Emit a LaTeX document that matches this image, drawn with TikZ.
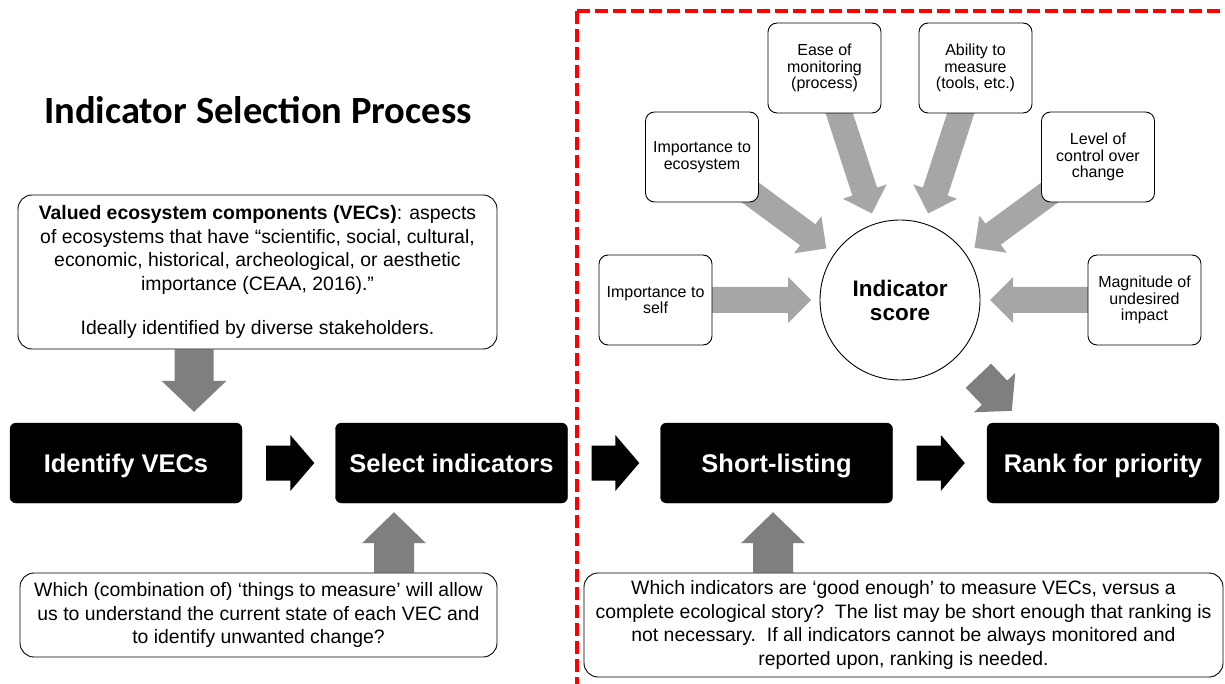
\documentclass[tikz,border=0pt]{standalone}
\usepackage{fontspec}
\setmainfont{Liberation Sans}
\newfontfamily\titlefont{Carlito}
\usetikzlibrary{calc,backgrounds}

\definecolor{lightarrow}{HTML}{A6A6A6}
\definecolor{darkarrow}{HTML}{7F7F7F}
\definecolor{framered}{HTML}{FF0000}

% Block arrow from #1 to the tip #2: half shaft width #3, half head width #4,
% head length #5 (all in pt), filled with #6
\newcommand{\blockarrow}[6]{%
  \fill[#6] let \p1=(#1), \p2=(#2),
      \n1={atan2(\y2-\y1,\x2-\x1)},
      \n2={veclen(\x2-\x1,\y2-\y1)-#5} in
    ($(\p1)+(\n1+90:#3)$) -- ($(\p1)+(\n1:\n2)+(\n1+90:#3)$)
    -- ($(\p1)+(\n1:\n2)+(\n1+90:#4)$) -- (\p2)
    -- ($(\p1)+(\n1:\n2)+(\n1-90:#4)$) -- ($(\p1)+(\n1:\n2)+(\n1-90:#3)$)
    -- ($(\p1)+(\n1-90:#3)$) -- cycle;}

\begin{document}
\begin{tikzpicture}[x=1pt,y=1pt,
  box/.style={draw=black, line width=0.9pt, fill=white, inner sep=0pt, align=center},
  note/.style={box, rounded corners=14pt, font=\fontsize{19.4}{23.5}\selectfont},
  crit/.style={box, rounded corners=9pt, minimum width=113pt, minimum height=90pt,
    font=\fontsize{16}{16.5}\selectfont},
  stage/.style={fill=black, draw=black, rounded corners=6pt, minimum width=232pt,
    minimum height=80pt, inner sep=0pt, text=white, text height=18.3pt, text depth=0pt,
    font=\fontsize{25.5}{30}\selectfont\bfseries},
  redframe/.style={draw=framered, line width=4pt, dash pattern=on 13pt off 5pt}]

\useasboundingbox (0,0) rectangle (1225,-684);

% title
\node[anchor=base, font=\titlefont\fontsize{38.5}{40}\selectfont\bfseries] (title)
  at (258,-124) {Indicator Selection Process};

% left half: VEC description and question
\node[note, minimum width=479pt, minimum height=154pt] (vec) at (257.5,-272)
  {\textbf{Valued ecosystem components (VECs)}: aspects\\
   of ecosystems that have “scientific, social, cultural,\\
   economic, historical, archeological, or aesthetic\\
   importance (CEAA, 2016).”\\[21pt]
   Ideally identified by diverse stakeholders.};
\node[note, minimum width=477pt, minimum height=84pt] (q1) at (258.5,-615)
  {Which (combination of) ‘things to measure’ will allow\\
   us to understand the current state of each VEC and\\
   to identify unwanted change?};
\node[note, minimum width=639pt, minimum height=104pt] (q2) at (903.5,-625)
  {Which indicators are ‘good enough’ to measure VECs, versus a\\
   complete ecological story?\ \ The list may be short enough that ranking is\\
   not necessary.\ \ If all indicators cannot be always monitored and\\
   reported upon, ranking is needed.};

% process stages
\node[stage] (idv) at (126,-463) {Identify VECs};
\node[stage] (sel) at (451.5,-463) {Select indicators};
\node[stage] (sl) at (776.5,-463) {Short-listing};
\node[stage] (rk) at (1103,-463) {Rank for priority};

% indicator score and its criteria
\node[circle, draw=black, line width=0.9pt, fill=white, minimum size=160pt, inner sep=0pt,
  align=center, font=\fontsize{22.5}{24}\selectfont\bfseries] (score) at (900,-300)
  {Indicator\\score};
\node[crit] (ease) at (824.5,-68) {Ease of\\monitoring\\(process)};
\node[crit] (abil) at (975.5,-68) {Ability to\\measure\\(tools, etc.)};
\node[crit] (eco) at (702,-157) {Importance to\\ecosystem};
\node[crit] (ctrl) at (1098,-157) {Level of\\control over\\change};
\node[crit] (self) at (655.5,-300) {Importance to\\self};
\node[crit] (mag) at (1144.5,-300) {Magnitude of\\undesired\\impact};

% page and flow arrows, under the boxes
\begin{pgfonlayer}{background}
  \fill[white] (0,0) rectangle (1225,-684);
  \blockarrow{self}{$(score.center)+(180:89)$}{13}{23}{23}{lightarrow}
  \blockarrow{eco}{$(score.center)+(145:90)$}{13}{23}{23}{lightarrow}
  \blockarrow{ease}{$(score.center)+(108:91)$}{13}{23}{23}{lightarrow}
  \blockarrow{abil}{$(score.center)+(72:91)$}{13}{23}{23}{lightarrow}
  \blockarrow{ctrl}{$(score.center)+(35:91)$}{13}{23}{23}{lightarrow}
  \blockarrow{mag}{$(score.center)+(0:90)$}{13}{23}{23}{lightarrow}
  \blockarrow{$(score.center)+(-44:109)$}{$(rk.north west)+(25,12)$}{17.5}{28.5}{25}{darkarrow}
  \blockarrow{$(vec.south)+(-63.5,0)$}{$(idv.north)+(68,11)$}{19.5}{32.5}{31}{darkarrow}
  \blockarrow{$(q1.north)+(135.5,0)$}{$(sel.south)+(-57.5,-9)$}{20}{32}{31}{darkarrow}
  \blockarrow{$(q2.north)+(-130.5,0)$}{$(sl.south)+(-3.5,-9)$}{20}{32}{31}{darkarrow}
\end{pgfonlayer}
\blockarrow{$(idv.east)+(24,0)$}{$(sel.west)+(-21,0)$}{17.5}{28}{24}{black}
\blockarrow{$(sel.east)+(24,0)$}{$(sl.west)+(-21,0)$}{17.5}{28}{24}{black}
\blockarrow{$(sl.east)+(24,0)$}{$(rk.west)+(-22,0)$}{17.5}{28}{24}{black}

% dashed frame round the scoring half
\coordinate (fc) at (577,-11);
\coordinate (fb) at (577,-684);
\coordinate (fr) at (1225,-11);
\draw[redframe] (fc) -- (fb);
\draw[redframe] (fc) -- (fr);
\end{tikzpicture}
\end{document}
